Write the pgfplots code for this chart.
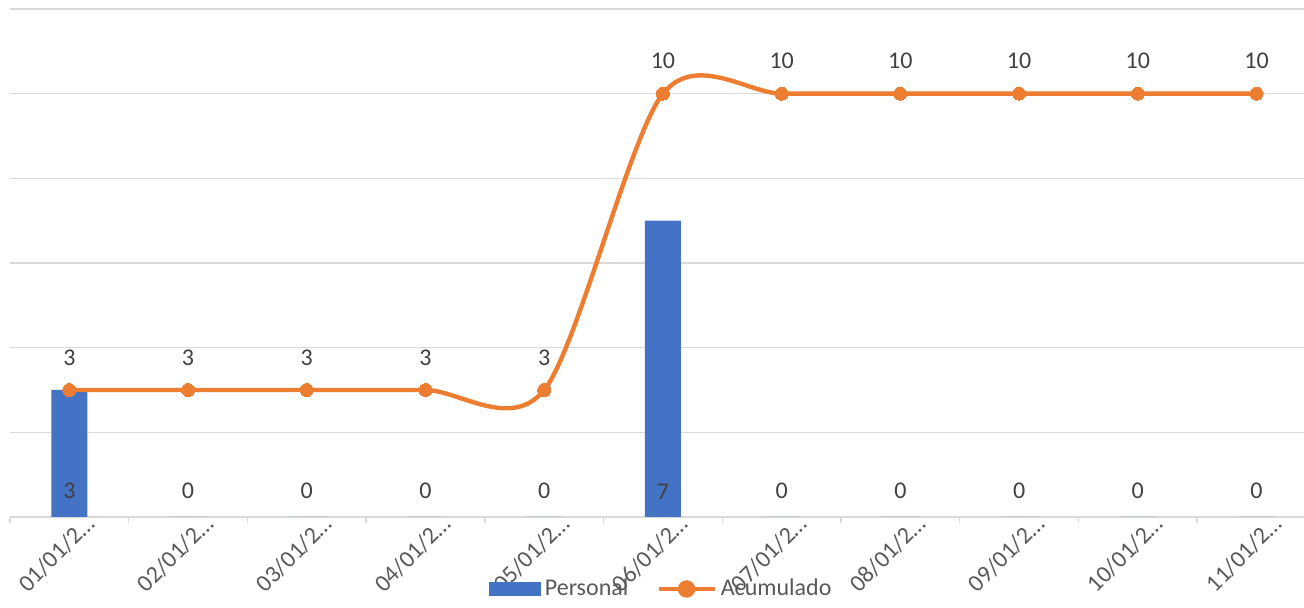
\documentclass[border=0pt]{standalone}
\usepackage{pgfplots}
\pgfplotsset{compat=1.18}
\usepackage{fontspec}
\setmainfont{Carlito}
\definecolor{barblue}{HTML}{4472C4}
\definecolor{lineor}{HTML}{ED7D31}
\definecolor{gridg}{HTML}{D9D9D9}
\definecolor{txt}{HTML}{404040}
\definecolor{txtb}{HTML}{595959}
\begin{document}
\begin{tikzpicture}
\useasboundingbox (0,0) rectangle (652pt,304pt);
\begin{axis}[
  at={(5pt,45.5pt)}, anchor=south west,
  scale only axis, width=647pt, height=254pt,
  xmin=-0.5, xmax=10.40, ymin=0, ymax=12,
  /pgf/number format/assume math mode=true,
  xtick={0,...,10},
  xticklabels={01/01/2…,02/01/2…,03/01/2…,04/01/2…,05/01/2…,06/01/2…,07/01/2…,08/01/2…,09/01/2…,10/01/2…,11/01/2…},
  minor xtick={-0.5,0.5,...,9.5},
  ytick={0,2,...,12}, yticklabels={},
  major tick length=0pt, minor tick length=3pt,
  tick align=outside, xtick pos=bottom,
  ytick style={draw=none},
  minor tick style={gridg, line width=0.75pt},
  axis line style={draw=none},
  ymajorgrids, grid style={gridg, line width=0.75pt},
  xticklabel style={rotate=45, anchor=east, xshift=10pt, yshift=-8.5pt, font=\fontsize{12}{14}\selectfont, text=txtb},
  legend style={at={(0.504,-0.1417)}, anchor=center, draw=none, fill=none,
    font=\fontsize{12}{14}\selectfont, text=txtb, legend columns=2,
    /tikz/every even column/.append style={column sep=12pt}},
  clip=false,
]
\addplot[ybar, bar width=18pt, bar shift=0pt, fill=barblue, draw=none,
  legend image code/.code={\fill[barblue] (0pt,-3.5pt) rectangle (26pt,3.5pt);}]
  coordinates {(0,3) (1,0) (2,0) (3,0) (4,0) (5,7) (6,0) (7,0) (8,0) (9,0) (10,0)};
\addlegendentry{Personal}
\addplot[lineor, line width=2.2pt, smooth, tension=0.5, mark=*, mark size=3.25pt,
  mark options={fill=lineor, draw=lineor, line width=0pt},
  nodes near coords, point meta=y,
  every node near coord/.append style={anchor=south, inner sep=0pt, yshift=12.25pt, text=txt, font=\fontsize{12}{14}\selectfont},
  legend image code/.code={\draw[lineor, line width=2.2pt] (0pt,0pt) -- (28pt,0pt); \fill[lineor] (14pt,0pt) circle (3.25pt);}]
  coordinates {(0,3) (1,3) (2,3) (3,3) (4,3) (5,10) (6,10) (7,10) (8,10) (9,10) (10,10)};
\addlegendentry{Acumulado}
\addplot[draw=none, mark=none, forget plot, nodes near coords, point meta=explicit,
  every node near coord/.append style={anchor=south, inner sep=0pt, yshift=8.75pt, text=txt, font=\fontsize{12}{14}\selectfont}]
  coordinates {(0,0)[3] (1,0)[0] (2,0)[0] (3,0)[0] (4,0)[0] (5,0)[7] (6,0)[0] (7,0)[0] (8,0)[0] (9,0)[0] (10,0)[0]};
\end{axis}
\end{tikzpicture}
\end{document}
